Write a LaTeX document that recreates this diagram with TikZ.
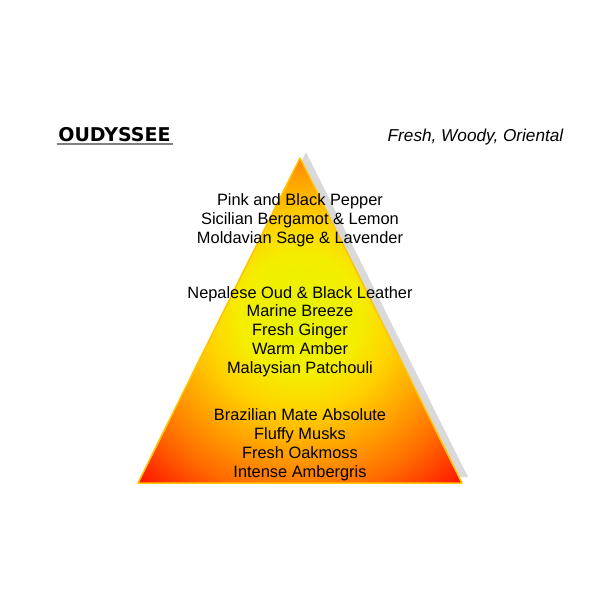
\documentclass[tikz,border=0pt]{standalone}
\usepackage{fontspec}
\setmainfont{Liberation Sans}
\newfontfamily\titlefont{DejaVu Sans}
\definecolor{verdelima}{HTML}{E6F200}
\definecolor{amarillo}{HTML}{F4EE00}
\definecolor{dorado}{HTML}{FFD200}
\definecolor{naranja}{HTML}{FFA000}
\definecolor{naranjarojo}{HTML}{FF6A00}
\definecolor{rojo}{HTML}{FF1000}
\definecolor{borde}{HTML}{FFC400}
\pgfdeclareradialshading{piramide}{\pgfpoint{0bp}{0bp}}{color(0bp)=(verdelima); color(5bp)=(amarillo); color(8bp)=(dorado); color(11.5bp)=(naranja); color(15bp)=(naranjarojo); color(19.5bp)=(rojo); color(50bp)=(rojo)}
\begin{document}
\begin{tikzpicture}[x=1pt,y=-1pt,
    notas/.style={align=center, anchor=base, font=\fontsize{16.4}{18.8}\selectfont}]
  \useasboundingbox (0,0) rectangle (600,600);

  % Titulo
  \node[anchor=base, font=\titlefont\bfseries\fontsize{19}{22}\selectfont] (titulo) at (114.5,141) {OUDYSSEE};
  \draw[gray, line width=1.5pt] (57,144) -- (173,144);
  \node[anchor=base, font=\itshape\fontsize{17.2}{20}\selectfont] (familia) at (475.5,141) {Fresh, Woody, Oriental};

  % Sombra
  \fill[gray!30] (144,477) -- (468,477) -- (306,152) -- cycle;

  % Piramide
  \begin{scope}
    \clip (138,483) -- (462,483) -- (300,158) -- cycle;
    \shade[shading=piramide] (0,15) rectangle (600,615);
  \end{scope}
  \draw[borde, line width=1.5pt, line join=round] (138,483) -- (462,483) -- (300,158) -- cycle;

  % Notas
  \node[notas] (salida) at (300,243.3) {Pink and Black Pepper\\Sicilian Bergamot \& Lemon\\Moldavian Sage \& Lavender};
  \node[notas] (corazon) at (300,373.3) {Nepalese Oud \& Black Leather\\Marine Breeze\\Fresh Ginger\\Warm Amber\\Malaysian Patchouli};
  \node[notas] (fondo) at (300,477.3) {Brazilian Mate Absolute\\Fluffy Musks\\Fresh Oakmoss\\Intense Ambergris};

\end{tikzpicture}
\end{document}
